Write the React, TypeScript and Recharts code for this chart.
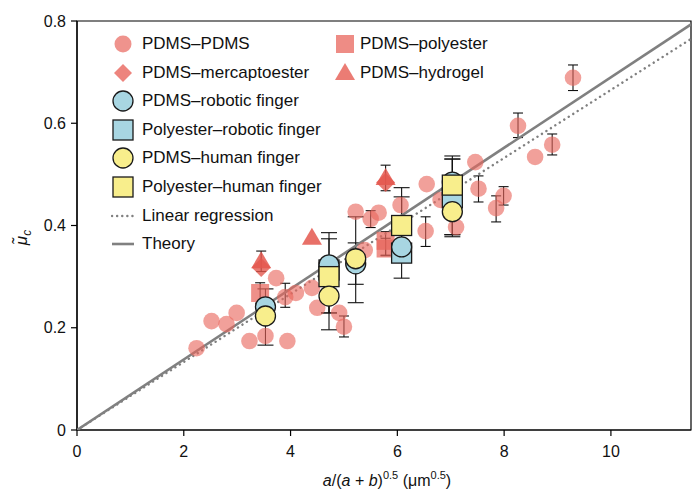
import React from 'react';
import { ScatterChart, Scatter, XAxis, YAxis, ErrorBar, Legend, ReferenceArea } from 'recharts';

type P = { x: number; y: number; e?: [number, number] };

const xTicks = [0, 2, 4, 6, 8, 10];
const yTicks = [0, 0.2, 0.4, 0.6, 0.8];

const pdmsPdms: P[] = [
  { x: 2.24, y: 0.16 },
  { x: 2.52, y: 0.213 },
  { x: 2.8, y: 0.207 },
  { x: 2.99, y: 0.229 },
  { x: 3.23, y: 0.174 },
  { x: 3.53, y: 0.184 },
  { x: 3.73, y: 0.297 },
  { x: 3.9, y: 0.26, e: [0.02, 0.027] },
  { x: 3.94, y: 0.174 },
  { x: 4.1, y: 0.268 },
  { x: 4.4, y: 0.278 },
  { x: 4.5, y: 0.239 },
  { x: 4.91, y: 0.229 },
  { x: 5.0, y: 0.202, e: [0.02, 0.021] },
  { x: 5.22, y: 0.427 },
  { x: 5.39, y: 0.352 },
  { x: 5.5, y: 0.413, e: [0.017, 0.016] },
  { x: 5.65, y: 0.425 },
  { x: 6.06, y: 0.44 },
  { x: 6.53, y: 0.389, e: [0.03, 0.028] },
  { x: 6.55, y: 0.481 },
  { x: 6.81, y: 0.45 },
  { x: 7.1, y: 0.397 },
  { x: 7.46, y: 0.524 },
  { x: 7.52, y: 0.472, e: [0.026, 0.025] },
  { x: 7.85, y: 0.434, e: [0.027, 0.024] },
  { x: 7.99, y: 0.458, e: [0.018, 0.018] },
  { x: 8.26, y: 0.595, e: [0.023, 0.025] },
  { x: 8.58, y: 0.534 },
  { x: 8.9, y: 0.558, e: [0.02, 0.021] },
  { x: 9.29, y: 0.689, e: [0.025, 0.025] },
];

const pdmsPolyester: P[] = [
  { x: 3.43, y: 0.268, e: [0.02, 0.02] },
  { x: 5.78, y: 0.37, e: [0.028, 0.018] },
  { x: 5.78, y: 0.355, e: [0.014, 0.02] },
];

const pdmsMercapto: P[] = [
  { x: 3.45, y: 0.318 },
  { x: 5.78, y: 0.484 },
];

const pdmsHydrogel: P[] = [
  { x: 3.45, y: 0.33, e: [0.02, 0.02] },
  { x: 4.4, y: 0.376 },
  { x: 5.78, y: 0.493, e: [0.025, 0.025] },
];

const robotCircle: P[] = [
  { x: 3.53, y: 0.241 },
  { x: 4.72, y: 0.323, e: [0.094, 0.063] },
  { x: 5.22, y: 0.325, e: [0.04, 0.041] },
  { x: 6.08, y: 0.358, e: [0.061, 0.116] },
  { x: 7.03, y: 0.485, e: [0.103, 0.045] },
];

const robotSquare: P[] = [
  { x: 4.72, y: 0.313 },
  { x: 6.08, y: 0.346 },
  { x: 7.03, y: 0.454 },
];

const humanCircle: P[] = [
  { x: 3.53, y: 0.223, e: [0.057, 0.053] },
  { x: 4.72, y: 0.262, e: [0.066, 0.066] },
  { x: 5.22, y: 0.335, e: [0.086, 0.082] },
  { x: 7.03, y: 0.427, e: [0.049, 0.103] },
];

const humanSquare: P[] = [
  { x: 4.72, y: 0.3, e: [0.071, 0.074] },
  { x: 6.08, y: 0.4, e: [0.05, 0.056] },
  { x: 7.03, y: 0.479, e: [0.097, 0.057] },
];

const theoryLine = [
  { x: 0, y: 0 },
  { x: 11.5, y: 0.7935 },
];
const regressionLine = [
  { x: 0, y: 0 },
  { x: 11.5, y: 0.765 },
];

const legendCol1 = [
  'PDMS–PDMS',
  'PDMS–mercaptoester',
  'PDMS–robotic finger',
  'Polyester–robotic finger',
  'PDMS–human finger',
  'Polyester–human finger',
  'Linear regression',
  'Theory',
];
const legendCol2 = ['PDMS–polyester', 'PDMS–hydrogel'];

const FONT = '"Liberation Sans", Arial, Helvetica, sans-serif';
const PINK = '#E8655C';
const PINK_OP = 0.62;
const RED = '#E4574D';
const BLUE = '#A8D6E2';
const YELLOW = '#F8EE8C';
const EDGE = '#1a1a1a';
const GRAY = '#808080';

const none = () => <g />;

const pinkCircle = (p: any) => (
  <circle cx={p.cx} cy={p.cy} r={8.3} fill={PINK} fillOpacity={PINK_OP} />
);
const pinkSquare = (p: any) => (
  <rect x={p.cx - 9} y={p.cy - 9} width={18} height={18} fill={PINK} fillOpacity={0.72} />
);
const redDiamond = (p: any) => (
  <polygon
    points={`${p.cx},${p.cy - 9.5} ${p.cx + 9.5},${p.cy} ${p.cx},${p.cy + 9.5} ${p.cx - 9.5},${p.cy}`}
    fill={RED}
    fillOpacity={0.8}
  />
);
const redTriangle = (p: any) => (
  <polygon
    points={`${p.cx},${p.cy - 10} ${p.cx + 10},${p.cy + 7} ${p.cx - 10},${p.cy + 7}`}
    fill={RED}
    fillOpacity={0.85}
  />
);
const edgedCircle = (fill: string) => (p: any) => (
  <circle cx={p.cx} cy={p.cy} r={10} fill={fill} stroke={EDGE} strokeWidth={1.3} />
);
const edgedSquare = (fill: string) => (p: any) => (
  <rect x={p.cx - 10} y={p.cy - 10} width={20} height={20} fill={fill} stroke={EDGE} strokeWidth={1.3} />
);

const LegendIcon = ({ i }: { i: number }) => {
  const s = 24;
  const c = s / 2;
  let el: React.ReactNode = null;
  if (i === 0) el = <circle cx={c} cy={c} r={8.5} fill={PINK} fillOpacity={0.7} />;
  if (i === 1)
    el = (
      <polygon points={`${c},${c - 9} ${c + 9},${c} ${c},${c + 9} ${c - 9},${c}`} fill={PINK} fillOpacity={0.8} />
    );
  if (i === 2) el = <circle cx={c} cy={c} r={10} fill={BLUE} stroke={EDGE} strokeWidth={1.3} />;
  if (i === 3) el = <rect x={c - 10} y={c - 10} width={20} height={20} fill={BLUE} stroke={EDGE} strokeWidth={1.3} />;
  if (i === 4) el = <circle cx={c} cy={c} r={10} fill={YELLOW} stroke={EDGE} strokeWidth={1.3} />;
  if (i === 5) el = <rect x={c - 10} y={c - 10} width={20} height={20} fill={YELLOW} stroke={EDGE} strokeWidth={1.3} />;
  if (i === 6)
    el = (
      <line x1={1} y1={c} x2={23} y2={c} stroke={GRAY} strokeWidth={2.4} strokeDasharray="0.1 5" strokeLinecap="round" />
    );
  if (i === 7) el = <line x1={1} y1={c} x2={23} y2={c} stroke={GRAY} strokeWidth={2.6} />;
  if (i === 10) el = <rect x={c - 9} y={c - 9} width={18} height={18} fill={PINK} fillOpacity={0.75} />;
  if (i === 11)
    el = <polygon points={`${c},${c - 10} ${c + 10},${c + 7} ${c - 10},${c + 7}`} fill={PINK} fillOpacity={0.85} />;
  return (
    <svg width={s} height={s} style={{ position: 'absolute', left: -12, top: -12 }}>
      {el}
    </svg>
  );
};

const renderLegend = () => {
  const rowH = 28.6;
  const top0 = 44;
  const item = (label: string, key: string, iconX: number, textX: number, cy: number, idx: number) => (
    <div key={key}>
      <div style={{ position: 'absolute', left: iconX, top: cy }}>
        <LegendIcon i={idx} />
      </div>
      <div
        style={{
          position: 'absolute',
          left: textX,
          top: cy - 11,
          height: 22,
          lineHeight: '22px',
          fontSize: 17,
          fontFamily: FONT,
          color: '#111',
          whiteSpace: 'nowrap',
        }}
      >
        {label}
      </div>
    </div>
  );
  return (
    <div style={{ position: 'relative', width: 700, height: 0 }}>
      {legendCol1.map((l, i) => item(l, 'a' + i, 123, 142, top0 + i * rowH, i))}
      {legendCol2.map((l, i) => item(l, 'b' + i, 345, 360, top0 + i * rowH, 10 + i))}
    </div>
  );
};

const XLabel = (props: any) => {
  const vb = props.viewBox || {};
  const cx = vb.x + vb.width / 2 + 3;
  const y = vb.y + 56;
  return (
    <text x={cx} y={y} textAnchor="middle" fontSize={16} fontFamily={FONT} fill="#111">
      <tspan fontStyle="italic">a</tspan>
      <tspan>{'/('}</tspan>
      <tspan fontStyle="italic">a</tspan>
      <tspan>{' + '}</tspan>
      <tspan fontStyle="italic">b</tspan>
      <tspan>{')'}</tspan>
      <tspan dy={-7} fontSize={11}>
        {'0.5'}
      </tspan>
      <tspan dy={7}>{' (μm'}</tspan>
      <tspan dy={-7} fontSize={11}>
        {'0.5'}
      </tspan>
      <tspan dy={7}>{')'}</tspan>
    </text>
  );
};

const YLabel = (props: any) => {
  const vb = props.viewBox || {};
  const x = vb.x + 10;
  const y = vb.y + vb.height / 2 + 12;
  return (
    <text
      x={x}
      y={y}
      transform={`rotate(-90 ${x} ${y})`}
      textAnchor="middle"
      fontSize={17}
      fontFamily={FONT}
      fill="#111"
    >
      <tspan fontStyle="italic">{'μ\u0303'}</tspan>
      <tspan dy={4} fontSize={12} fontStyle="italic">
        {'c'}
      </tspan>
    </text>
  );
};

export default function App() {
  return (
    <div style={{ position: 'absolute', left: 0, top: 0, width: 700, height: 497, background: '#fff' }}>
      <ScatterChart width={700} height={497} margin={{ top: 21, right: 9, left: 17, bottom: 17 }}>
        <XAxis
          type="number"
          dataKey="x"
          domain={[0, 11.5]}
          ticks={xTicks}
          allowDataOverflow
          height={50}
          tickSize={6}
          tickMargin={10}
          axisLine={{ stroke: '#000', strokeWidth: 1.2 }}
          tickLine={{ stroke: '#000', strokeWidth: 1.2 }}
          tick={{ fill: '#111', fontSize: 16, fontFamily: FONT }}
          label={<XLabel />}
        />
        <YAxis
          type="number"
          dataKey="y"
          domain={[0, 0.8]}
          ticks={yTicks}
          allowDataOverflow
          width={60}
          tickSize={6}
          tickMargin={5}
          tickFormatter={(v: number) => (v === 0 ? '0' : v.toFixed(1))}
          axisLine={{ stroke: '#000', strokeWidth: 1.2 }}
          tickLine={{ stroke: '#000', strokeWidth: 1.2 }}
          tick={{ fill: '#111', fontSize: 16, fontFamily: FONT }}
          label={<YLabel />}
        />
        <ReferenceArea x1={0} x2={11.5} y1={0} y2={0.8} fill="none" fillOpacity={0} stroke="#000" strokeWidth={1.2} />
        <Legend content={renderLegend} verticalAlign="middle" layout="horizontal" wrapperStyle={{ left: 0, top: 0, width: 700 }} />

        <Scatter
          name="Linear regression"
          data={regressionLine}
          shape={none}
          line={{ stroke: GRAY, strokeWidth: 2.4, strokeDasharray: '0.1 5.2', strokeLinecap: 'round' }}
          isAnimationActive={false}
        />
        <Scatter
          name="Theory"
          data={theoryLine}
          shape={none}
          line={{ stroke: GRAY, strokeWidth: 2.6 }}
          isAnimationActive={false}
        />

        <Scatter name="PDMS–PDMS" data={pdmsPdms} shape={pinkCircle} isAnimationActive={false} />
        <Scatter name="PDMS–polyester" data={pdmsPolyester} shape={pinkSquare} isAnimationActive={false} />
        <Scatter name="PDMS–mercaptoester" data={pdmsMercapto} shape={redDiamond} isAnimationActive={false} />
        <Scatter name="PDMS–hydrogel" data={pdmsHydrogel} shape={redTriangle} isAnimationActive={false} />
        <Scatter name="Polyester–robotic finger" data={robotSquare} shape={edgedSquare(BLUE)} isAnimationActive={false} />
        <Scatter name="PDMS–robotic finger" data={robotCircle} shape={edgedCircle(BLUE)} isAnimationActive={false} />
        <Scatter name="Polyester–human finger" data={humanSquare} shape={edgedSquare(YELLOW)} isAnimationActive={false} />
        <Scatter name="PDMS–human finger" data={humanCircle} shape={edgedCircle(YELLOW)} isAnimationActive={false} />

        {[pdmsPdms, pdmsPolyester, pdmsHydrogel].map((d, i) => (
          <Scatter key={'ep' + i} data={d} shape={none} isAnimationActive={false} legendType="none">
            <ErrorBar dataKey="e" direction="y" width={5} stroke="#111" strokeWidth={1.1} isAnimationActive={false} />
          </Scatter>
        ))}
        {[robotCircle, humanCircle, humanSquare].map((d, i) => (
          <Scatter key={'ef' + i} data={d} shape={none} isAnimationActive={false} legendType="none">
            <ErrorBar dataKey="e" direction="y" width={8} stroke="#111" strokeWidth={1.1} isAnimationActive={false} />
          </Scatter>
        ))}
      </ScatterChart>
    </div>
  );
}
